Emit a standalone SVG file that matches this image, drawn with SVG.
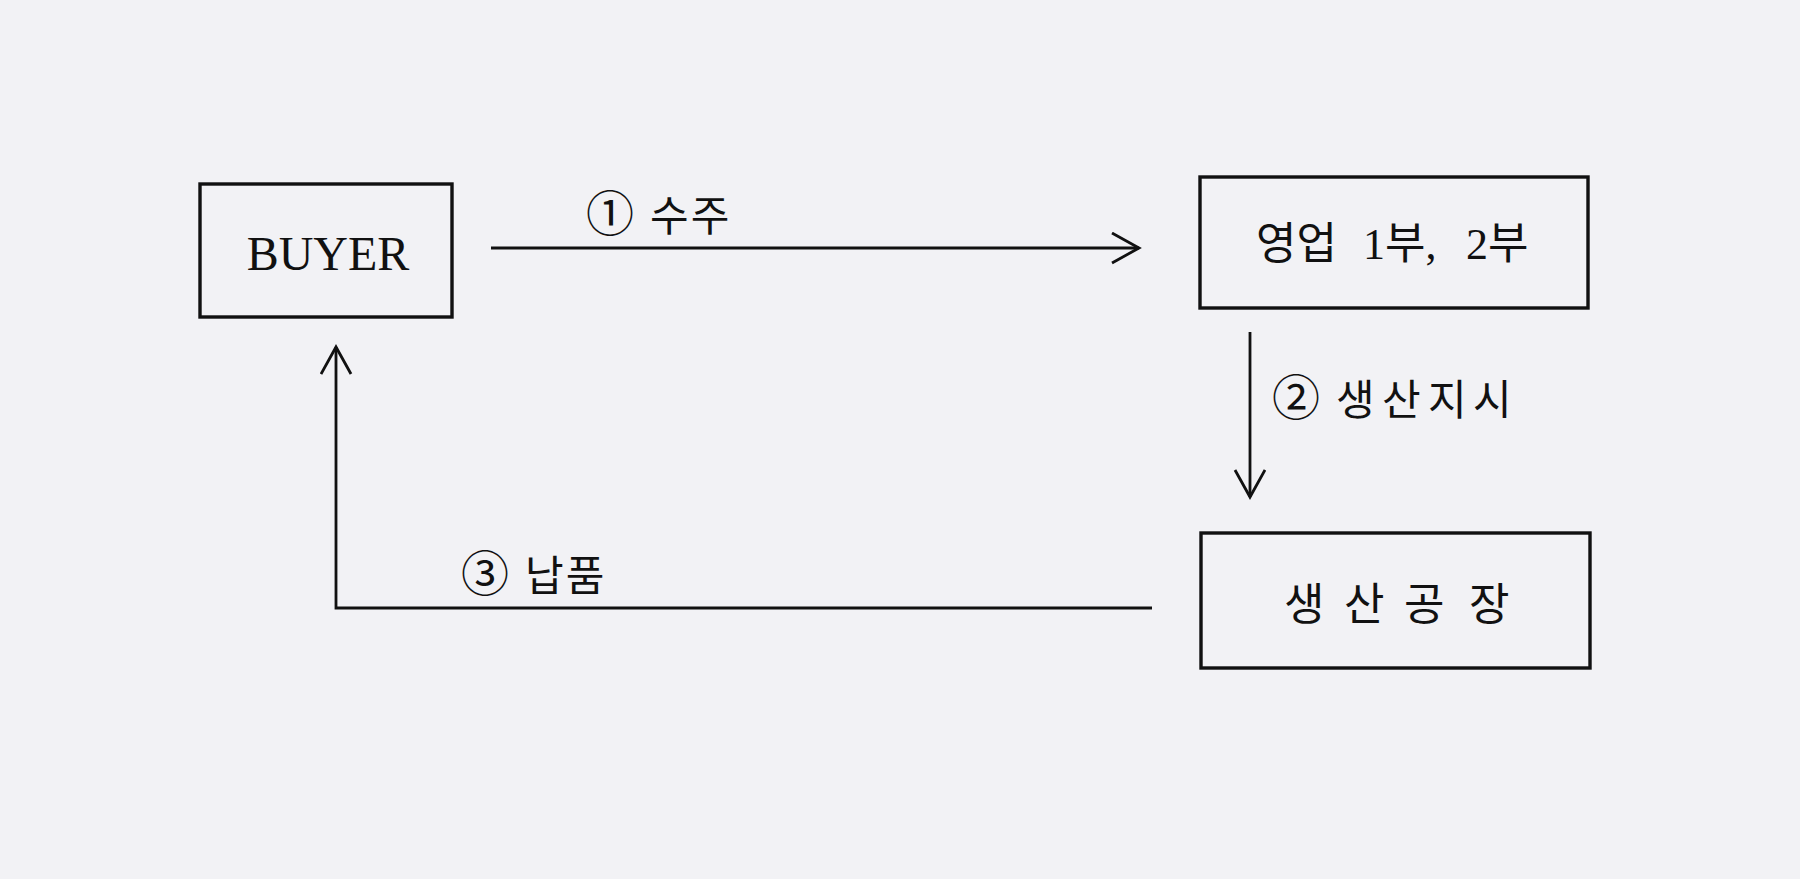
<svg xmlns="http://www.w3.org/2000/svg" width="1800" height="879" viewBox="0 0 1800 879">
<style>
.box{fill:none;stroke:#111;stroke-width:3.4}
.ln{fill:none;stroke:#111;stroke-width:2.8}
.t{fill:#111;font-family:"Noto Sans CJK KR","Liberation Sans",sans-serif;font-weight:400}
.ser{fill:#111;font-family:"Liberation Serif","Noto Sans CJK KR",serif}
.circ{font-family:"Noto Sans CJK KR",sans-serif;font-size:48px;font-weight:400}
</style>
<defs>
<marker id="arr" markerUnits="userSpaceOnUse" markerWidth="32" markerHeight="36" refX="28" refY="16" orient="auto">
<path d="M1,1 L28,16 L1,31" fill="none" stroke="#111" stroke-width="2.8"/>
</marker>
</defs>
<rect width="1800" height="879" fill="#f2f2f5"/>
<g id="buyer">
<rect class="box" x="200" y="184" width="252" height="133"/>
<text class="ser" x="328" y="270" font-size="48" text-anchor="middle">BUYER</text>
</g>
<g id="sales">
<rect class="box" x="1200" y="177" width="388" height="131"/>
<text class="ser" x="1256" y="259" font-size="44">영업 <tspan x="1363">1부, </tspan><tspan x="1466">2부</tspan></text>
</g>
<g id="factory">
<rect class="box" x="1201" y="533" width="389" height="135"/>
<text class="t" y="620" font-size="44"><tspan x="1284">생</tspan> <tspan x="1344">산</tspan> <tspan x="1404">공</tspan> <tspan x="1469">장</tspan></text>
</g>
<g id="connectors">
<line class="ln" x1="491" y1="248" x2="1139" y2="248" marker-end="url(#arr)"/>
<line class="ln" x1="1250" y1="332" x2="1250" y2="497" marker-end="url(#arr)"/>
<polyline class="ln" points="1152,608 336,608 336,347" marker-end="url(#arr)"/>
</g>
<g id="labels">
<text class="t" y="231" font-size="42"><tspan class="circ" x="586">①</tspan> <tspan x="650" letter-spacing="2">수주</tspan></text>
<text class="t" y="415" font-size="42"><tspan class="circ" x="1272">②</tspan> <tspan x="1336 1382 1428 1473">생산지시</tspan></text>
<text class="t" y="591" font-size="42"><tspan class="circ" x="461">③</tspan> <tspan x="525" letter-spacing="2">납품</tspan></text>
</g>
</svg>
